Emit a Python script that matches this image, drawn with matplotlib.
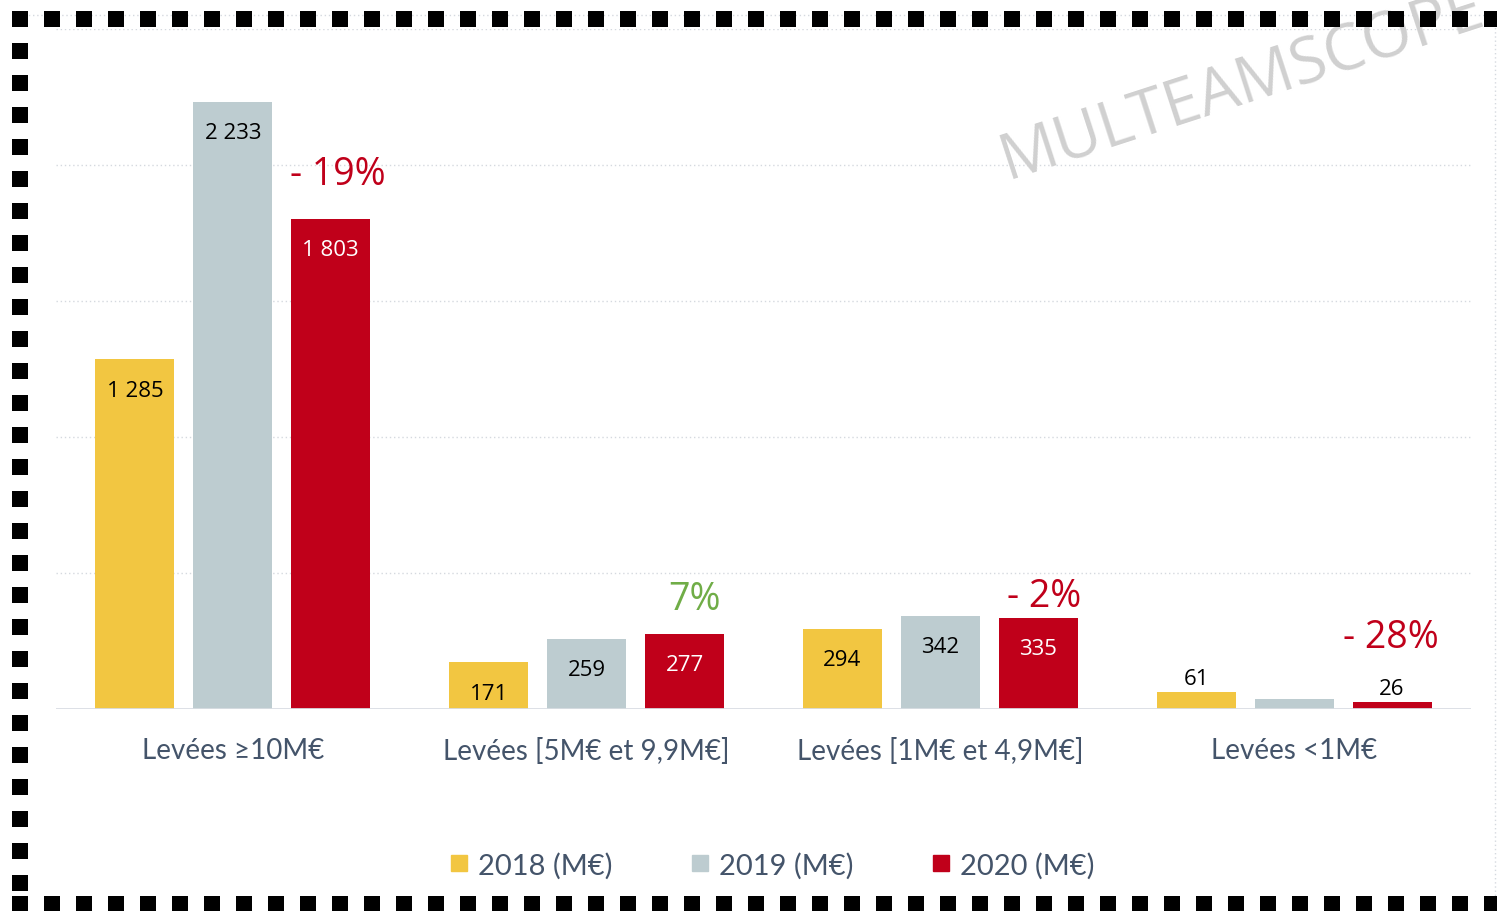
import numpy as np
import matplotlib.pyplot as plt
from matplotlib.lines import Line2D

# Data
categories = ["Levées ≥10M€", "Levées [5M€ et 9,9M€]", "Levées [1M€ et 4,9M€]", "Levées <1M€"]
series_names = ["2018 (M€)", "2019 (M€)", "2020 (M€)"]
v2018 = [1285, 171, 294, 61]
v2019 = [2233, 259, 342, 36]
v2020 = [1803, 277, 335, 26]
value_labels_2019 = ["2 233", "259", "342", ""]
variations = ["- 19%", "7%", "- 2%", "- 28%"]

colors = ["#F2C641", "#BDCCD0", "#C0001A"]
inside_text = ["black", "black", "white"]
var_colors = ["#C0001A", "#70AD47", "#C0001A", "#C0001A"]
label_color = "#44546A"

W, H = 1497, 912
fig = plt.figure(figsize=(W / 100, H / 100), dpi=100)
ax = fig.add_axes([56 / W, (H - 710) / H, (1471 - 56) / W, (710 - 30) / H])

x = np.arange(len(categories))
width = 79 / 354
step = 98 / 354

all_vals = [v2018, v2019, v2020]
for i, vals in enumerate(all_vals):
    ax.bar(x + (i - 1) * step, vals, width, color=colors[i], zorder=3,
           label=series_names[i])

ax.set_xlim(-0.5, 3.5)
ax.set_ylim(0, 2500)

# grid
for yv in [500, 1000, 1500, 2000, 2500]:
    ax.axhline(yv, color="#D5D9DF", lw=1, ls=(0, (1, 2)), zorder=1)
ax.axhline(0, color="#D9DDE3", lw=2, zorder=4)
for s in ax.spines.values():
    s.set_visible(False)
ax.set_yticks([])
ax.set_xticks(x)
ax.set_xticklabels(categories, fontsize=20, color=label_color, family=["Lato", "DejaVu Sans"])
ax.tick_params(axis="x", length=0, pad=20)

fmt = lambda v: f"{v:,}".replace(",", " ")

# value labels
for i, vals in enumerate(all_vals):
    for j, v in enumerate(vals):
        txt = fmt(v)
        if i == 1:
            txt = value_labels_2019[j]
        if not txt:
            continue
        cx = x[j] + (i - 1) * step
        if v > 120:
            off, col = (0, -22), inside_text[i]
        else:
            off, col = (0, 10), "black"
        ax.annotate(txt, (cx, v), xytext=off, textcoords="offset points",
                    ha="center", va="center", fontsize=16, color=col,
                    family="Open Sans", zorder=5)

# variation labels above 2020 bars
var_offsets = [(5, 32), (7, 25), (4, 16), (-1, 47)]
for j, v in enumerate(v2020):
    ax.annotate(variations[j], (x[j] + step, v), xytext=var_offsets[j], textcoords="offset points",
                ha="center", va="center", fontsize=27, color=var_colors[j],
                family="Open Sans", zorder=5)

# watermark
fig.text(1008 / W, 1 - 180 / H, "MULTEAMSCOPE", fontsize=46, color="#D0D0D0",
         family="Open Sans", rotation=18, rotation_mode="anchor",
         ha="left", va="baseline")

# legend
handles = [Line2D([], [], marker="s", ls="", markersize=11, color=c) for c in colors]
leg = fig.legend(handles, series_names, loc="center", bbox_to_anchor=(772 / W, 1 - 866 / H),
                 ncol=3, frameon=False, handlelength=0.6, handletextpad=0.35,
                 columnspacing=2.7, prop={"family": "Lato", "size": 21})
for t in leg.get_texts():
    t.set_color(label_color)

# faint dotted frame (behind the squares)
fig.add_artist(Line2D([20 / W, 1495 / W, 1495 / W], [1 - 16 / H, 1 - 16 / H, 1 - 897 / H],
                      transform=fig.transFigure, color="#D5D9DF", lw=1, ls=(0, (1, 2)),
                      zorder=0))

# dashed border (black squares)
sq = 16 * 72 / 100
border = [([12 / W, 1], [1 - 20 / H, 1 - 20 / H]),
          ([12 / W, 1], [1 - 905 / H, 1 - 905 / H]),
          ([20 / W, 20 / W], [1 - 12 / H, 0])]
for bx, by in border:
    fig.add_artist(Line2D(bx, by, transform=fig.transFigure, color="black", lw=sq,
                          dashes=(1, 1), dash_capstyle="butt", zorder=5))

fig.savefig("out.png", dpi=100)
